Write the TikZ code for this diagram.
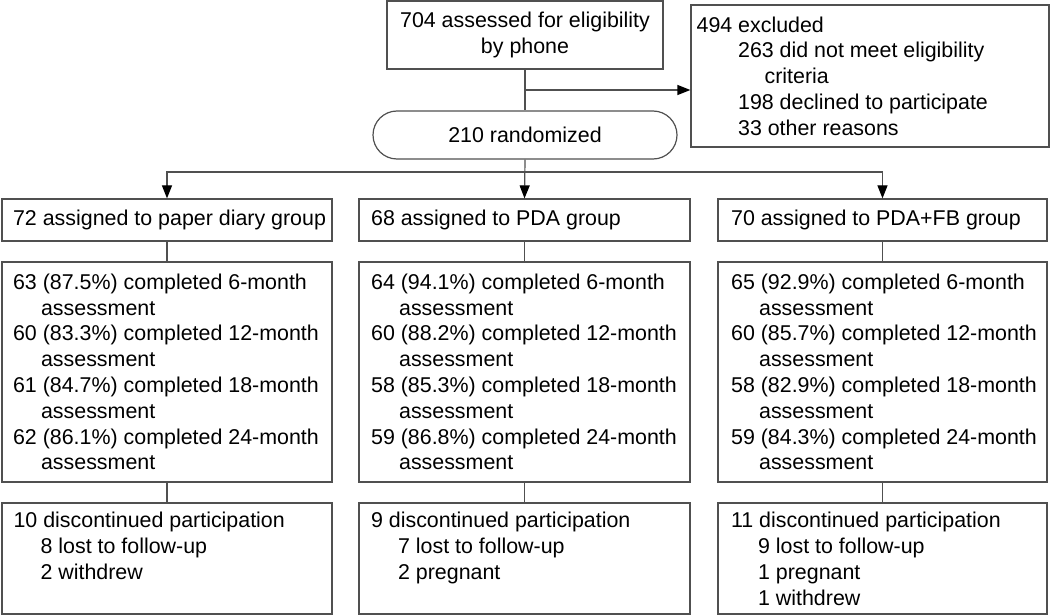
\documentclass[tikz,border=0pt]{standalone}
\usepackage{fontspec}
\setmainfont{Liberation Sans}
\usetikzlibrary{arrows.meta}
\definecolor{lg}{RGB}{80,80,80}
\begin{document}
\begin{tikzpicture}[x=1pt,y=-1pt,
  box/.style={draw=lg, line width=1.2pt, inner sep=0pt, rectangle},
  txt/.style={inner sep=0pt, align=left, font=\fontsize{21.4}{25.8}\selectfont},
  conn/.style={draw=lg, line width=1.2pt},
  arr/.style={conn, -{Triangle[length=13pt,width=10pt,color=black]}}
]
\useasboundingbox (0,0) rectangle (1050,615);

% top
\node[box, minimum width=276pt, minimum height=68pt, align=center,
      font=\fontsize{21.4}{25.8}\selectfont] (assess) at (525,35)
      {704 assessed for eligibility\\by phone};
\node[box, minimum width=358pt, minimum height=142pt] (excl) at (870,76) {};
\node[txt, anchor=west] (exclt) at ([xshift=6pt]excl.west)
  {494 excluded\\
   \hspace*{41.5pt}263 did not meet eligibility\\
   \hspace*{68pt}criteria\\
   \hspace*{41.5pt}198 declined to participate\\
   \hspace*{41.5pt}33 other reasons};
\node[box, minimum width=304pt, minimum height=48pt, rounded corners=24pt,
      font=\fontsize{21.4}{25.8}\selectfont] (rand) at (525,135) {210 randomized};

% group boxes
\node[box, minimum width=330pt, minimum height=42pt] (g1) at (167,220) {};
\node[box, minimum width=331pt, minimum height=42pt] (g2) at (524.5,220) {};
\node[box, minimum width=329pt, minimum height=42pt] (g3) at (882.5,220) {};
\node[txt, anchor=west] (g1t) at ([xshift=11.5pt]g1.west) {72 assigned to paper diary group};
\node[txt, anchor=west] (g2t) at ([xshift=12.5pt]g2.west) {68 assigned to PDA group};
\node[txt, anchor=west] (g3t) at ([xshift=13.5pt]g3.west) {70 assigned to PDA+FB group};

% middle boxes
\node[box, minimum width=330pt, minimum height=220pt] (m1) at (167,372) {};
\node[box, minimum width=331pt, minimum height=220pt] (m2) at (524.5,372) {};
\node[box, minimum width=329pt, minimum height=220pt] (m3) at (882.5,372) {};
\node[txt, anchor=west] (m1t) at ([xshift=11.5pt]m1.west)
  {63 (87.5\%) completed 6-month\\\hspace*{28pt}assessment\\
   60 (83.3\%) completed 12-month\\\hspace*{28pt}assessment\\
   61 (84.7\%) completed 18-month\\\hspace*{28pt}assessment\\
   62 (86.1\%) completed 24-month\\\hspace*{28pt}assessment};
\node[txt, anchor=west] (m2t) at ([xshift=12.5pt]m2.west)
  {64 (94.1\%) completed 6-month\\\hspace*{28pt}assessment\\
   60 (88.2\%) completed 12-month\\\hspace*{28pt}assessment\\
   58 (85.3\%) completed 18-month\\\hspace*{28pt}assessment\\
   59 (86.8\%) completed 24-month\\\hspace*{28pt}assessment};
\node[txt, anchor=west] (m3t) at ([xshift=13.5pt]m3.west)
  {65 (92.9\%) completed 6-month\\\hspace*{28pt}assessment\\
   60 (85.7\%) completed 12-month\\\hspace*{28pt}assessment\\
   58 (82.9\%) completed 18-month\\\hspace*{28pt}assessment\\
   59 (84.3\%) completed 24-month\\\hspace*{28pt}assessment};

% bottom boxes
\node[box, minimum width=330pt, minimum height=111pt] (b1) at (167,558.5) {};
\node[box, minimum width=331pt, minimum height=111pt] (b2) at (524.5,558.5) {};
\node[box, minimum width=329pt, minimum height=111pt] (b3) at (882.5,558.5) {};
\node[txt, anchor=north west] (b1t) at ([xshift=12pt,yshift=-9.5pt]b1.north west)
  {10 discontinued participation\\
   \hspace*{27pt}8 lost to follow-up\\
   \hspace*{27pt}2 withdrew};
\node[txt, anchor=north west] (b2t) at ([xshift=12.5pt,yshift=-9.5pt]b2.north west)
  {9 discontinued participation\\
   \hspace*{27pt}7 lost to follow-up\\
   \hspace*{27pt}2 pregnant};
\node[txt, anchor=north west] (b3t) at ([xshift=13.5pt,yshift=-9.5pt]b3.north west)
  {11 discontinued participation\\
   \hspace*{27pt}9 lost to follow-up\\
   \hspace*{27pt}1 pregnant\\
   \hspace*{27pt}1 withdrew};

% connectors
\coordinate (jx) at (525,90);
\coordinate (split) at (525,172);
\draw[conn] (assess.south) -- (rand.north);
\draw[arr] (jx) -- (excl.west |- jx);
\draw[arr] (rand.south) -- (g2.north);
\draw[arr] (split) -| (g1.north);
\draw[arr] (split) -| (g3.north);
\draw[conn] (g1.south) -- (m1.north);
\draw[conn] (g2.south) -- (m2.north);
\draw[conn] (g3.south) -- (m3.north);
\draw[conn] (m1.south) -- (b1.north);
\draw[conn] (m2.south) -- (b2.north);
\draw[conn] (m3.south) -- (b3.north);
\end{tikzpicture}
\end{document}
